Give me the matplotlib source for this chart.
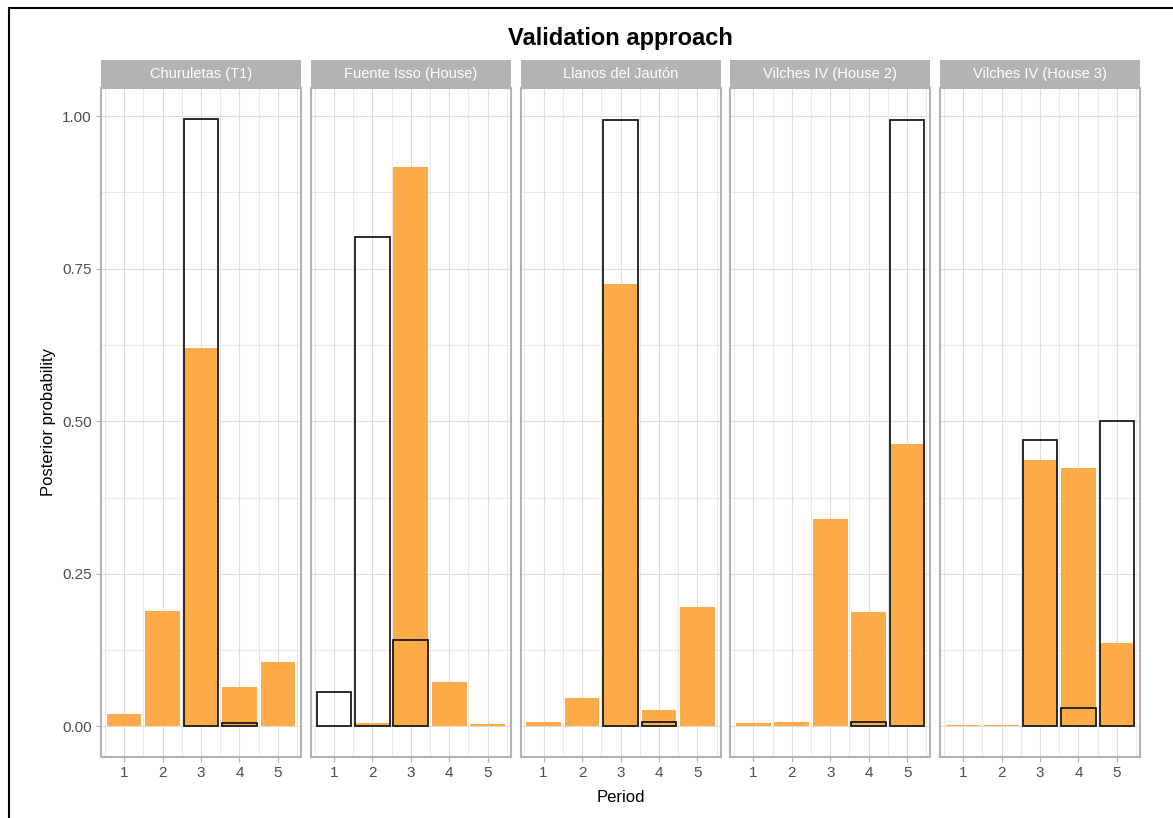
import matplotlib
matplotlib.use("Agg")
import matplotlib.pyplot as plt
from matplotlib.patches import Rectangle
import numpy as np

plt.rcParams['font.family'] = ['Liberation Sans', 'DejaVu Sans']

sites = ["Churuletas (T1)", "Fuente Isso (House)", "Llanos del Jautón",
         "Vilches IV (House 2)", "Vilches IV (House 3)"]
periods = [1, 2, 3, 4, 5]

# posterior probabilities (orange filled bars)
post_churuletas = [0.021, 0.190, 0.620, 0.064, 0.106]
post_fuente = [0.000, 0.006, 0.917, 0.073, 0.004]
post_llanos = [0.007, 0.046, 0.725, 0.027, 0.196]
post_vilches2 = [0.006, 0.007, 0.340, 0.187, 0.462]
post_vilches3 = [0.003, 0.002, 0.437, 0.424, 0.136]

# validation (black outlined bars)
val_churuletas = [0.0, 0.0, 0.995, 0.006, 0.0]
val_fuente = [0.056, 0.802, 0.142, 0.0, 0.0]
val_llanos = [0.0, 0.0, 0.994, 0.007, 0.0]
val_vilches2 = [0.0, 0.0, 0.0, 0.008, 0.994]
val_vilches3 = [0.0, 0.0, 0.470, 0.031, 0.500]

posterior = [post_churuletas, post_fuente, post_llanos, post_vilches2, post_vilches3]
validation = [val_churuletas, val_fuente, val_llanos, val_vilches2, val_vilches3]

yticks = [0.0, 0.25, 0.5, 0.75, 1.0]
ytick_labels = ["0.00", "0.25", "0.50", "0.75", "1.00"]

W, H = 1173, 818
fig = plt.figure(figsize=(W / 100, H / 100), dpi=100)

orange = "#FDAB48"
grid_col = "#DEDEDE"
border_col = "#B3B3B3"
tick_col = "#4D4D4D"

panel_top, panel_bot = 88, 757
strip_top = 60
pw = 200
lefts = [101 + i * 209.75 for i in range(5)]

for i, site in enumerate(sites):
    L = lefts[i]
    ax = fig.add_axes([L / W, 1 - panel_bot / H, pw / W, (panel_bot - panel_top) / H])
    ax.set_xlim(0.4, 5.6)
    ax.set_ylim(-0.05, 1.046)
    ax.set_xticks(periods)
    ax.set_xticks([0.5, 1.5, 2.5, 3.5, 4.5, 5.5], minor=True)
    ax.set_yticks(yticks)
    ax.set_yticks([0.125, 0.375, 0.625, 0.875], minor=True)
    ax.grid(which="major", color=grid_col, linewidth=0.8, zorder=0)
    ax.grid(which="minor", color=grid_col, linewidth=0.45, zorder=0)
    ax.set_axisbelow(True)
    ax.bar(periods, posterior[i], width=0.9, color=orange, edgecolor="none", zorder=2)
    vals = validation[i]
    xs = [p for p, v in zip(periods, vals) if v > 0]
    vs = [v for v in vals if v > 0]
    ax.bar(xs, vs, width=0.9, facecolor="none", edgecolor="#1a1a1a", linewidth=1.3, zorder=3)
    for sp in ax.spines.values():
        sp.set_color(border_col)
        sp.set_linewidth(1.5)
    ax.tick_params(which="major", color=border_col, length=3.5, width=0.8,
                   labelcolor=tick_col, labelsize=11, pad=3)
    ax.tick_params(which="minor", length=0)
    ax.set_xticklabels([str(p) for p in periods])
    if i == 0:
        ax.set_yticklabels(ytick_labels)
    else:
        ax.tick_params(axis="y", which="both", left=False, labelleft=False)

    sax = fig.add_axes([L / W, 1 - panel_top / H, pw / W, (panel_top - strip_top) / H])
    sax.set_facecolor(border_col)
    sax.set_xticks([]); sax.set_yticks([])
    for sp in sax.spines.values():
        sp.set_visible(False)
    sax.text(0.5, 0.5, site, color="white", fontsize=10.5, ha="center", va="center",
             transform=sax.transAxes)

cx = (lefts[0] + lefts[-1] + pw) / 2 / W
fig.text(cx, 1 - 38 / H, "Validation approach", fontsize=17, fontweight="bold",
         ha="center", va="center")
fig.text(cx, 1 - 797 / H, "Period", fontsize=12, ha="center", va="center")
fig.text(48 / W, 1 - 422 / H, "Posterior probability", fontsize=12, ha="center",
         va="center", rotation=90)

fig.patches.append(Rectangle((9 / W, -0.05), 1.1, 1.05 - 8 / H,
                             transform=fig.transFigure, fill=False,
                             edgecolor="black", linewidth=1.5, clip_on=False))

fig.savefig("out.png", dpi=100)
